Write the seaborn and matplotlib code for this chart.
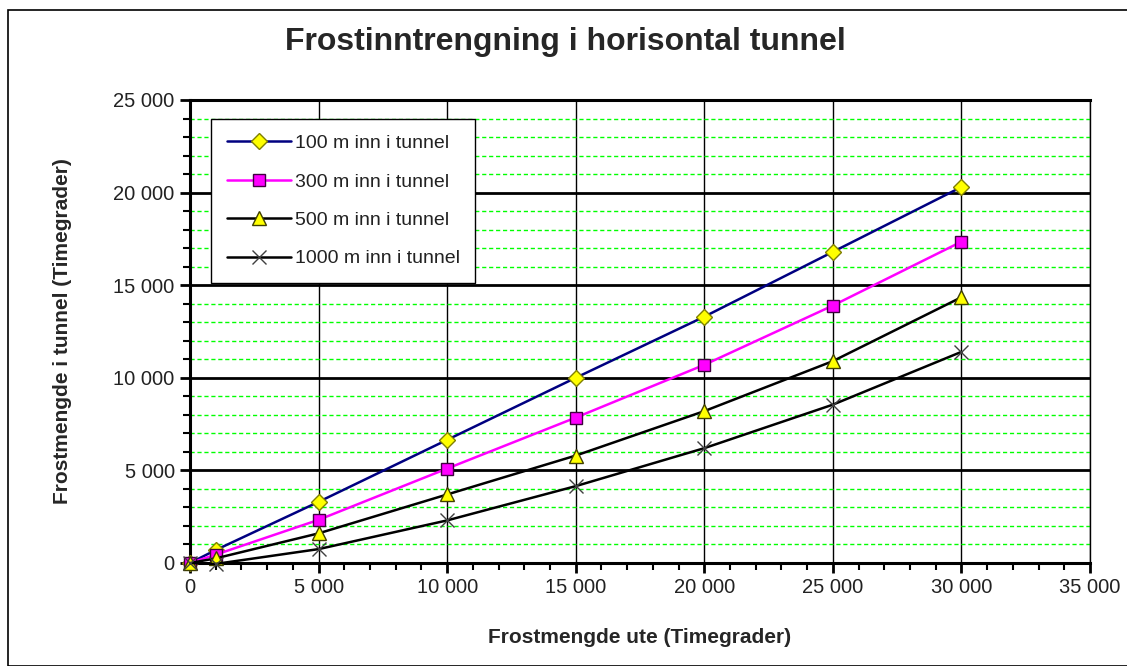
import matplotlib
matplotlib.use("Agg")
import matplotlib.pyplot as plt
import matplotlib.ticker as mticker
from matplotlib.patches import Rectangle
import seaborn as sns
import pandas as pd

x_values = [0, 1000, 5000, 10000, 15000, 20000, 25000, 30000]
s100 = [0, 700, 3300, 6650, 10000, 13300, 16800, 20300]
s300 = [0, 450, 2330, 5100, 7850, 10700, 13900, 17350]
s500 = [0, 250, 1600, 3700, 5800, 8200, 10900, 14350]
s1000 = [0, -50, 750, 2300, 4150, 6200, 8550, 11400]
series_names = ["100 m inn i tunnel", "300 m inn i tunnel", "500 m inn i tunnel", "1000 m inn i tunnel"]

rows = []
for name, vals in zip(series_names, [s100, s300, s500, s1000]):
    for xv, yv in zip(x_values, vals):
        rows.append({"x": xv, "y": yv, "serie": name})
df = pd.DataFrame(rows)

sns.set_theme(style="white")
plt.rcParams['font.family'] = ['Liberation Sans', 'DejaVu Sans']

fig = plt.figure(figsize=(11.27, 6.66), dpi=100)
ax = fig.add_axes([190/1127, 1-563/666, (1090-190)/1127, (563-100)/666])

styles = {
    series_names[0]: dict(color="#000080", marker="D", mfc="#FFFF00", mec="#808000", ms=8),
    series_names[1]: dict(color="#FF00FF", marker="s", mfc="#FF00FF", mec="#400040", ms=9),
    series_names[2]: dict(color="#000000", marker="^", mfc="#FFFF00", mec="#404000", ms=10),
    series_names[3]: dict(color="#000000", marker="x", mfc="none", mec="#404040", ms=10),
}

for name in series_names:
    st = styles[name]
    sub = df[df["serie"] == name]
    sns.lineplot(data=sub, x="x", y="y", ax=ax, color=st["color"], linewidth=1.8,
                 label=name, zorder=3, estimator=None, sort=False)
    line = ax.lines[-1]
    line.set_marker(st["marker"])
    line.set_markerfacecolor(st["mfc"])
    line.set_markeredgecolor(st["mec"])
    line.set_markersize(st["ms"])
    line.set_markeredgewidth(1.0)
    line.set_clip_on(False)

ax.set_xlim(0, 35000)
ax.set_ylim(0, 25000)
ax.xaxis.set_major_locator(mticker.MultipleLocator(5000))
ax.xaxis.set_minor_locator(mticker.MultipleLocator(1000))
ax.yaxis.set_major_locator(mticker.MultipleLocator(5000))
ax.yaxis.set_minor_locator(mticker.MultipleLocator(1000))
fmt = mticker.FuncFormatter(lambda v, p: f"{int(v):,}".replace(",", " "))
ax.xaxis.set_major_formatter(fmt)
ax.yaxis.set_major_formatter(fmt)

ax.grid(False)
ax.grid(which="minor", axis="y", color="#00FF00", linestyle=(0, (3, 2)), linewidth=1.0, zorder=0)
ax.grid(which="major", axis="y", color="black", linewidth=2.0, zorder=1)
ax.grid(which="major", axis="x", color="black", linewidth=1.0, zorder=1)
ax.set_axisbelow(True)

ax.tick_params(which="both", direction="out", bottom=True, left=True, color="black")
ax.tick_params(which="major", length=7, width=2)
ax.tick_params(which="minor", length=5, width=1.5)
ax.tick_params(axis="both", labelsize=14.5, labelcolor="#222222", pad=4)

for side in ["left", "bottom", "top"]:
    ax.spines[side].set_color("black")
    ax.spines[side].set_linewidth(2.2)
ax.spines["right"].set_color("black")
ax.spines["right"].set_linewidth(1.0)

ax.set_xlabel("Frostmengde ute (Timegrader)", fontsize=15, fontweight="bold", labelpad=22)
ax.set_ylabel("Frostmengde i tunnel (Timegrader)", fontsize=15, fontweight="bold", labelpad=30)

leg = ax.legend(loc="upper left", bbox_to_anchor=(21/900, 444/463), borderaxespad=0,
                frameon=True, fancybox=False,
                edgecolor="black", fontsize=14, borderpad=0.8, labelspacing=1.07,
                handlelength=3.3, handletextpad=0.2, framealpha=1)
leg.get_frame().set_linewidth(1.0)
for t in leg.get_texts():
    t.set_color("#222222")

fig.text(565/1127, 1-42/666, "Frostinntrengning i horisontal tunnel", ha="center", va="center",
         fontsize=23, fontweight="bold")

fig.patches.append(Rectangle((8/1127, 0), 1.2, 1-10/666, transform=fig.transFigure,
                             fill=False, edgecolor="black", linewidth=1.2))

fig.savefig("out.png", dpi=100)
